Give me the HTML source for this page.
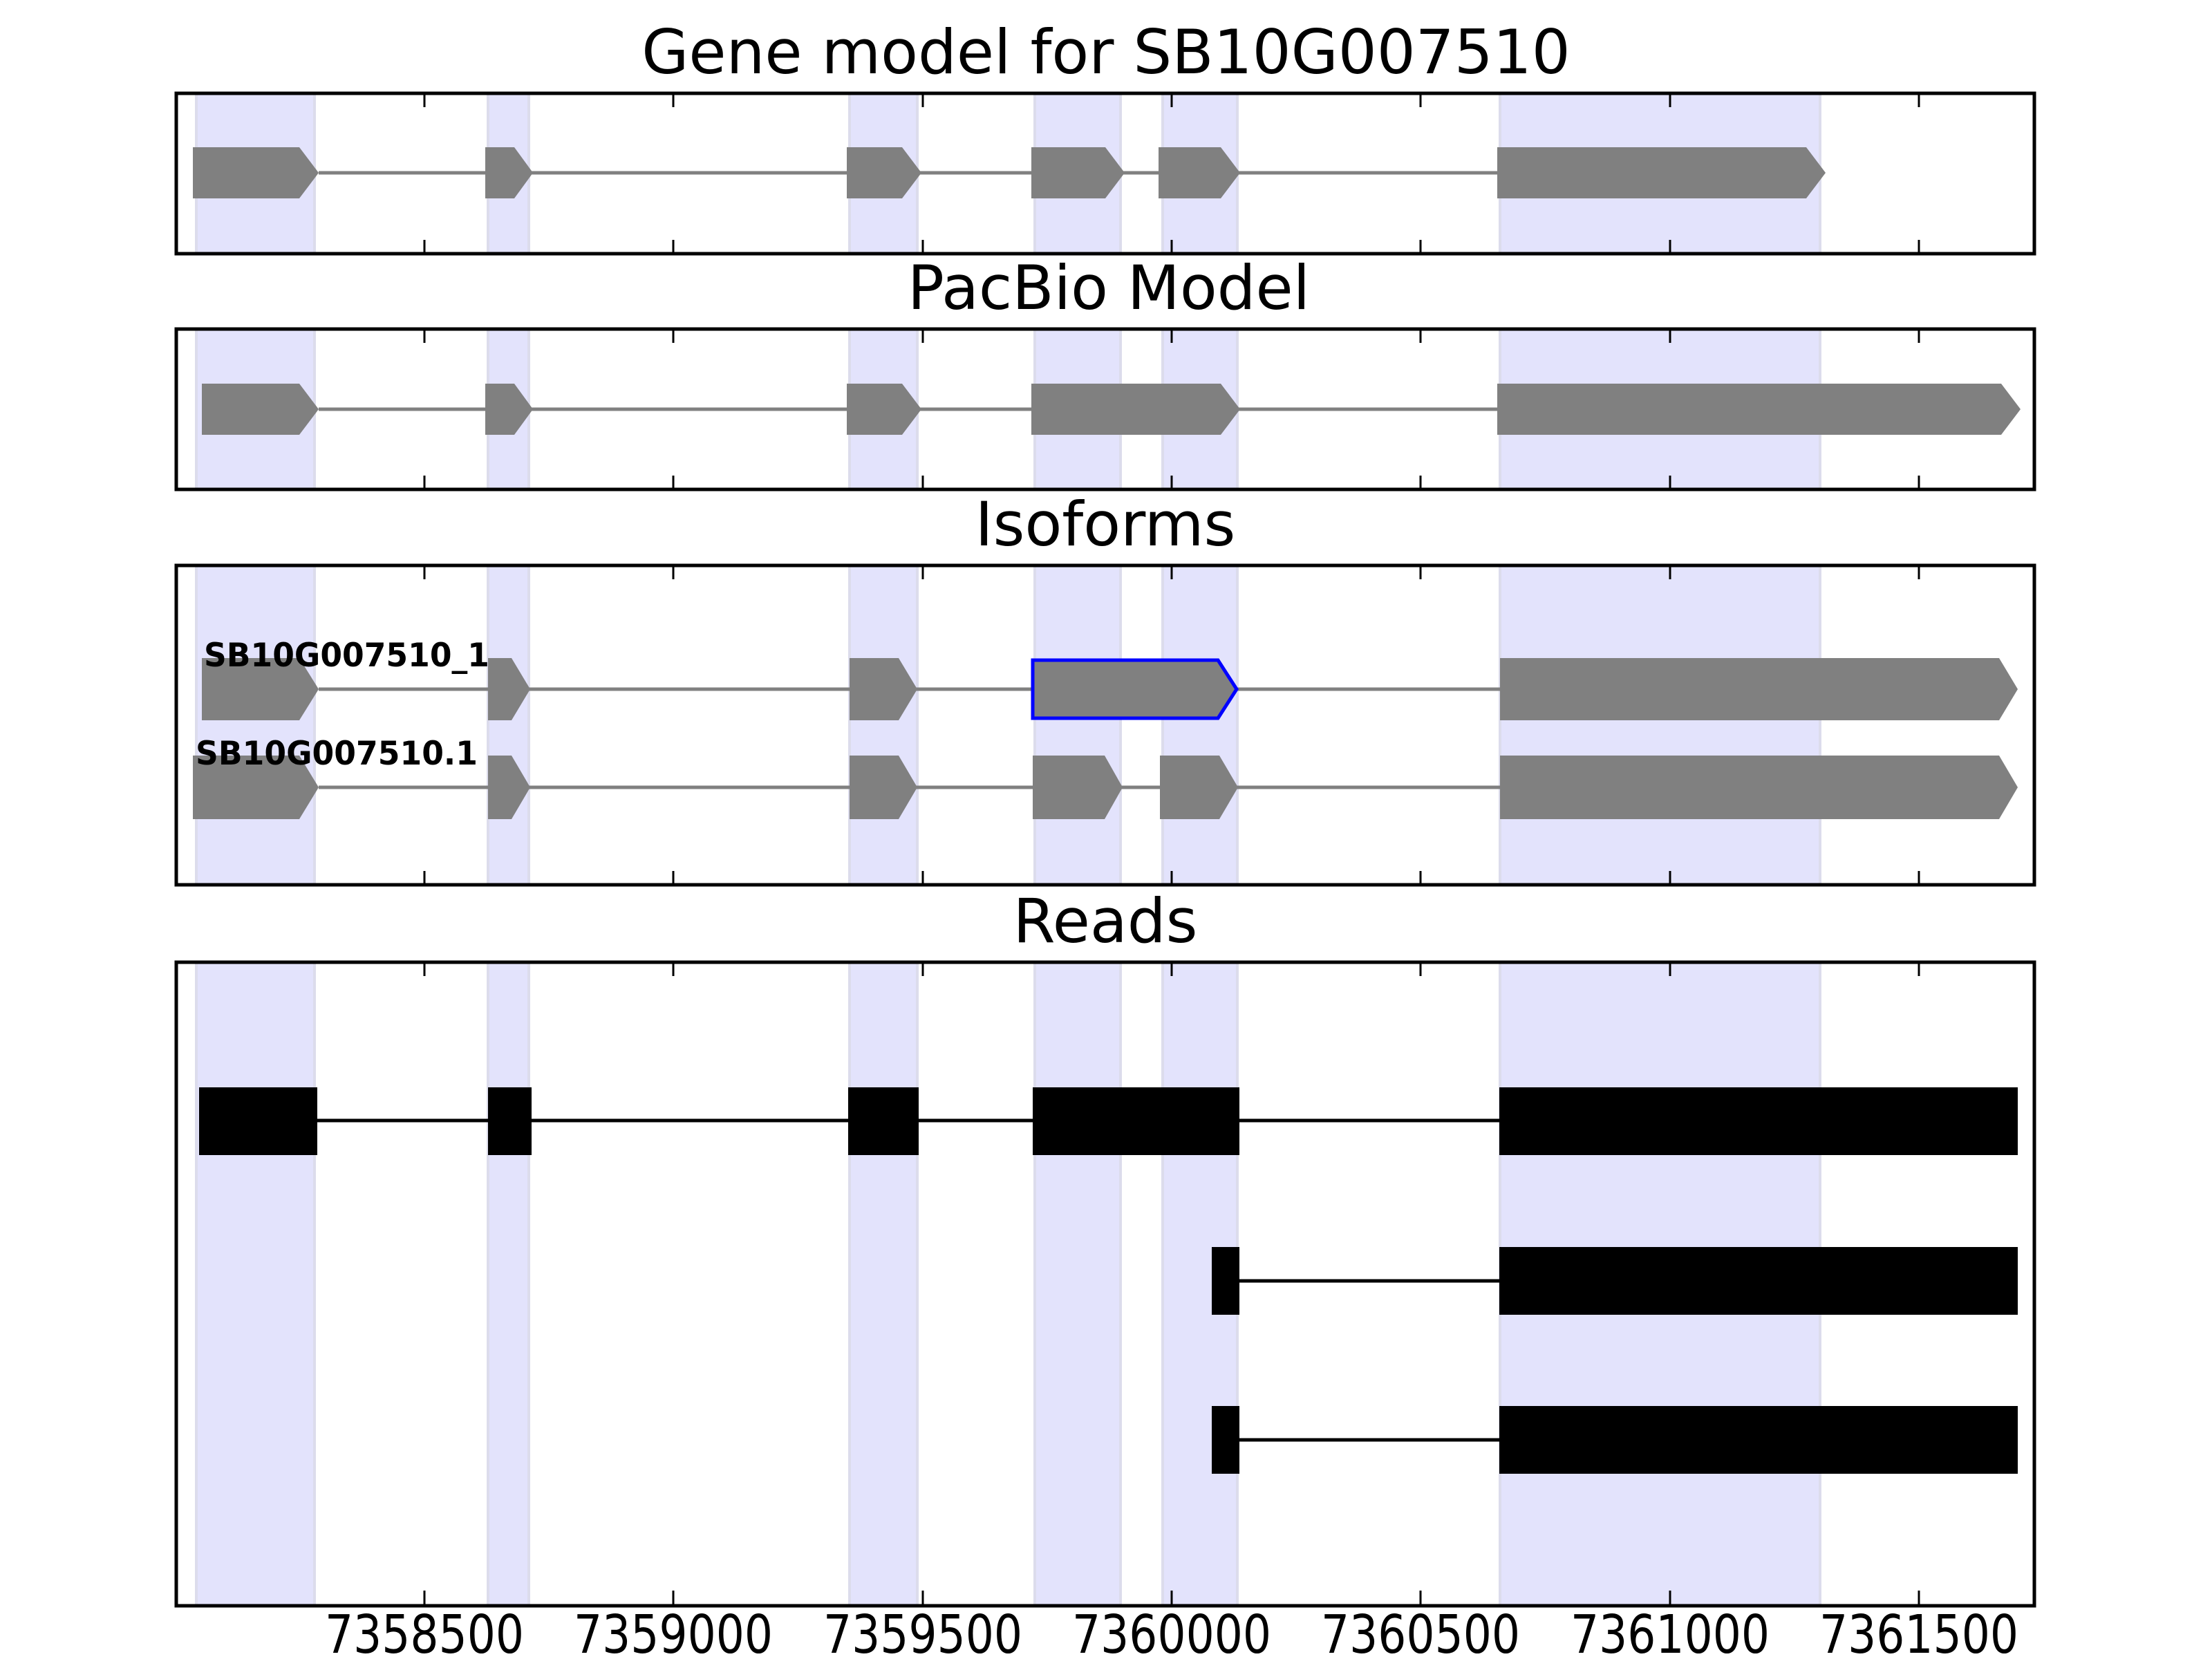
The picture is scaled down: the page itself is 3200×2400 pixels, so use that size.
<!DOCTYPE html>
<html><head><meta charset="utf-8"><style>html,body{margin:0;padding:0;background:#fff;width:3200px;height:2400px;overflow:hidden}svg{display:block}</style></head>
<body>
<svg width="3200" height="2400" viewBox="0 0 3200 2400" xmlns="http://www.w3.org/2000/svg" font-family="'DejaVu Sans','Liberation Sans',sans-serif">
<defs>
<g id="shade">
<g fill="#e3e3fc" stroke="#dcdcec" stroke-width="4">
<rect x="284" y="0" width="171" height="10000"/>
<rect x="706" y="0" width="59" height="10000"/>
<rect x="1229" y="0" width="98" height="10000"/>
<rect x="1497" y="0" width="124" height="10000"/>
<rect x="1682" y="0" width="108" height="10000"/>
<rect x="2170" y="0" width="463" height="10000"/>
</g>
</g>
</defs>

<!-- Titles -->
<text x="1600" y="106" font-size="88" text-anchor="middle">Gene model for SB10G007510</text>
<text x="1604" y="447" font-size="88" text-anchor="middle">PacBio Model</text>
<text x="1599" y="789" font-size="88" text-anchor="middle">Isoforms</text>
<text x="1599" y="1363" font-size="88" text-anchor="middle">Reads</text>

<!-- Panel 1 -->
<svg x="255" y="135" width="2688" height="232" viewBox="255 135 2688 232" overflow="hidden"><use href="#shade"/></svg>
<g fill="#808080">
<line x1="461" y1="250" x2="2166" y2="250" stroke="#808080" stroke-width="5"/>
<polygon points="279,213 433,213 461,250 433,287 279,287"/>
<polygon points="702,213 744,213 771,250 744,287 702,287"/>
<polygon points="1225,213 1305,213 1333,250 1305,287 1225,287"/>
<polygon points="1492,213 1599,213 1627,250 1599,287 1492,287"/>
<polygon points="1676,213 1766,213 1794,250 1766,287 1676,287"/>
<polygon points="2166,213 2613,213 2641,250 2613,287 2166,287"/>
</g>
<rect x="255" y="135" width="2688" height="232" fill="none" stroke="#000" stroke-width="5"/>

<!-- Panel 2 -->
<svg x="255" y="476" width="2688" height="232" viewBox="255 476 2688 232" overflow="hidden"><use href="#shade"/></svg>
<g fill="#808080">
<line x1="461" y1="592" x2="2166" y2="592" stroke="#808080" stroke-width="5"/>
<polygon points="292,555 433,555 461,592 433,629 292,629"/>
<polygon points="702,555 744,555 771,592 744,629 702,629"/>
<polygon points="1225,555 1305,555 1333,592 1305,629 1225,629"/>
<polygon points="1492,555 1766,555 1794,592 1766,629 1492,629"/>
<polygon points="2166,555 2895,555 2923,592 2895,629 2166,629"/>
</g>
<rect x="255" y="476" width="2688" height="232" fill="none" stroke="#000" stroke-width="5"/>

<!-- Panel 3 -->
<svg x="255" y="818" width="2688" height="462" viewBox="255 818 2688 462" overflow="hidden"><use href="#shade"/></svg>
<g fill="#808080">
<line x1="461" y1="997" x2="2170" y2="997" stroke="#808080" stroke-width="5"/>
<polygon points="292,952 433,952 461,997 433,1042 292,1042"/>
<polygon points="706,952 740,952 767,997 740,1042 706,1042"/>
<polygon points="1229,952 1300,952 1327,997 1300,1042 1229,1042"/>
<polygon points="2170,952 2892,952 2919,997 2892,1042 2170,1042"/>
<polygon points="1494,955 1762,955 1789,997 1762,1039 1494,1039" stroke="#0000ff" stroke-width="5"/>
<line x1="461" y1="1139" x2="2170" y2="1139" stroke="#808080" stroke-width="5"/>
<polygon points="279,1093 433,1093 461,1139 433,1185 279,1185"/>
<polygon points="706,1093 740,1093 767,1139 740,1185 706,1185"/>
<polygon points="1229,1093 1300,1093 1327,1139 1300,1185 1229,1185"/>
<polygon points="1494,1093 1598,1093 1624,1139 1598,1185 1494,1185"/>
<polygon points="1678,1093 1764,1093 1791,1139 1764,1185 1678,1185"/>
<polygon points="2170,1093 2892,1093 2919,1139 2892,1185 2170,1185"/>
</g>
<text x="295" y="964" font-size="47" font-weight="bold" textLength="413" lengthAdjust="spacingAndGlyphs">SB10G007510_1</text>
<text x="283" y="1106" font-size="47" font-weight="bold" textLength="408" lengthAdjust="spacingAndGlyphs">SB10G007510.1</text>
<rect x="255" y="818" width="2688" height="462" fill="none" stroke="#000" stroke-width="5"/>

<!-- Panel 4 -->
<svg x="255" y="1392" width="2688" height="931" viewBox="255 1392 2688 931" overflow="hidden"><use href="#shade"/></svg>
<g fill="#000">
<line x1="288" y1="1621" x2="2919" y2="1621" stroke="#000" stroke-width="5"/>
<rect x="288" y="1573" width="171" height="98"/>
<rect x="706" y="1573" width="63" height="98"/>
<rect x="1227" y="1573" width="102" height="98"/>
<rect x="1494" y="1573" width="299" height="98"/>
<rect x="2169" y="1573" width="750" height="98"/>
<line x1="1753" y1="1853" x2="2919" y2="1853" stroke="#000" stroke-width="5"/>
<rect x="1753" y="1804" width="40" height="98"/>
<rect x="2169" y="1804" width="750" height="98"/>
<line x1="1753" y1="2083" x2="2919" y2="2083" stroke="#000" stroke-width="5"/>
<rect x="1753" y="2034" width="40" height="98"/>
<rect x="2169" y="2034" width="750" height="98"/>
</g>
<rect x="255" y="1392" width="2688" height="931" fill="none" stroke="#000" stroke-width="5"/>

<!-- Ticks -->
<g stroke="#000" stroke-width="3">
<path d="M614 135v20M974 135v20M1335 135v20M1695 135v20M2055 135v20M2416 135v20M2776 135v20
M614 367v-20M974 367v-20M1335 367v-20M1695 367v-20M2055 367v-20M2416 367v-20M2776 367v-20
M614 476v20M974 476v20M1335 476v20M1695 476v20M2055 476v20M2416 476v20M2776 476v20
M614 708v-20M974 708v-20M1335 708v-20M1695 708v-20M2055 708v-20M2416 708v-20M2776 708v-20
M614 818v20M974 818v20M1335 818v20M1695 818v20M2055 818v20M2416 818v20M2776 818v20
M614 1280v-20M974 1280v-20M1335 1280v-20M1695 1280v-20M2055 1280v-20M2416 1280v-20M2776 1280v-20
M614 1392v20M974 1392v20M1335 1392v20M1695 1392v20M2055 1392v20M2416 1392v20M2776 1392v20
M614 2323v-22M974 2323v-22M1335 2323v-22M1695 2323v-22M2055 2323v-22M2416 2323v-22M2776 2323v-22"/>
</g>
<g font-size="77" text-anchor="middle">
<text x="614" y="2391" textLength="288" lengthAdjust="spacingAndGlyphs">7358500</text>
<text x="974" y="2391" textLength="288" lengthAdjust="spacingAndGlyphs">7359000</text>
<text x="1335" y="2391" textLength="288" lengthAdjust="spacingAndGlyphs">7359500</text>
<text x="1695" y="2391" textLength="288" lengthAdjust="spacingAndGlyphs">7360000</text>
<text x="2055" y="2391" textLength="288" lengthAdjust="spacingAndGlyphs">7360500</text>
<text x="2416" y="2391" textLength="288" lengthAdjust="spacingAndGlyphs">7361000</text>
<text x="2776" y="2391" textLength="288" lengthAdjust="spacingAndGlyphs">7361500</text>
</g>
</svg>
</body></html>
